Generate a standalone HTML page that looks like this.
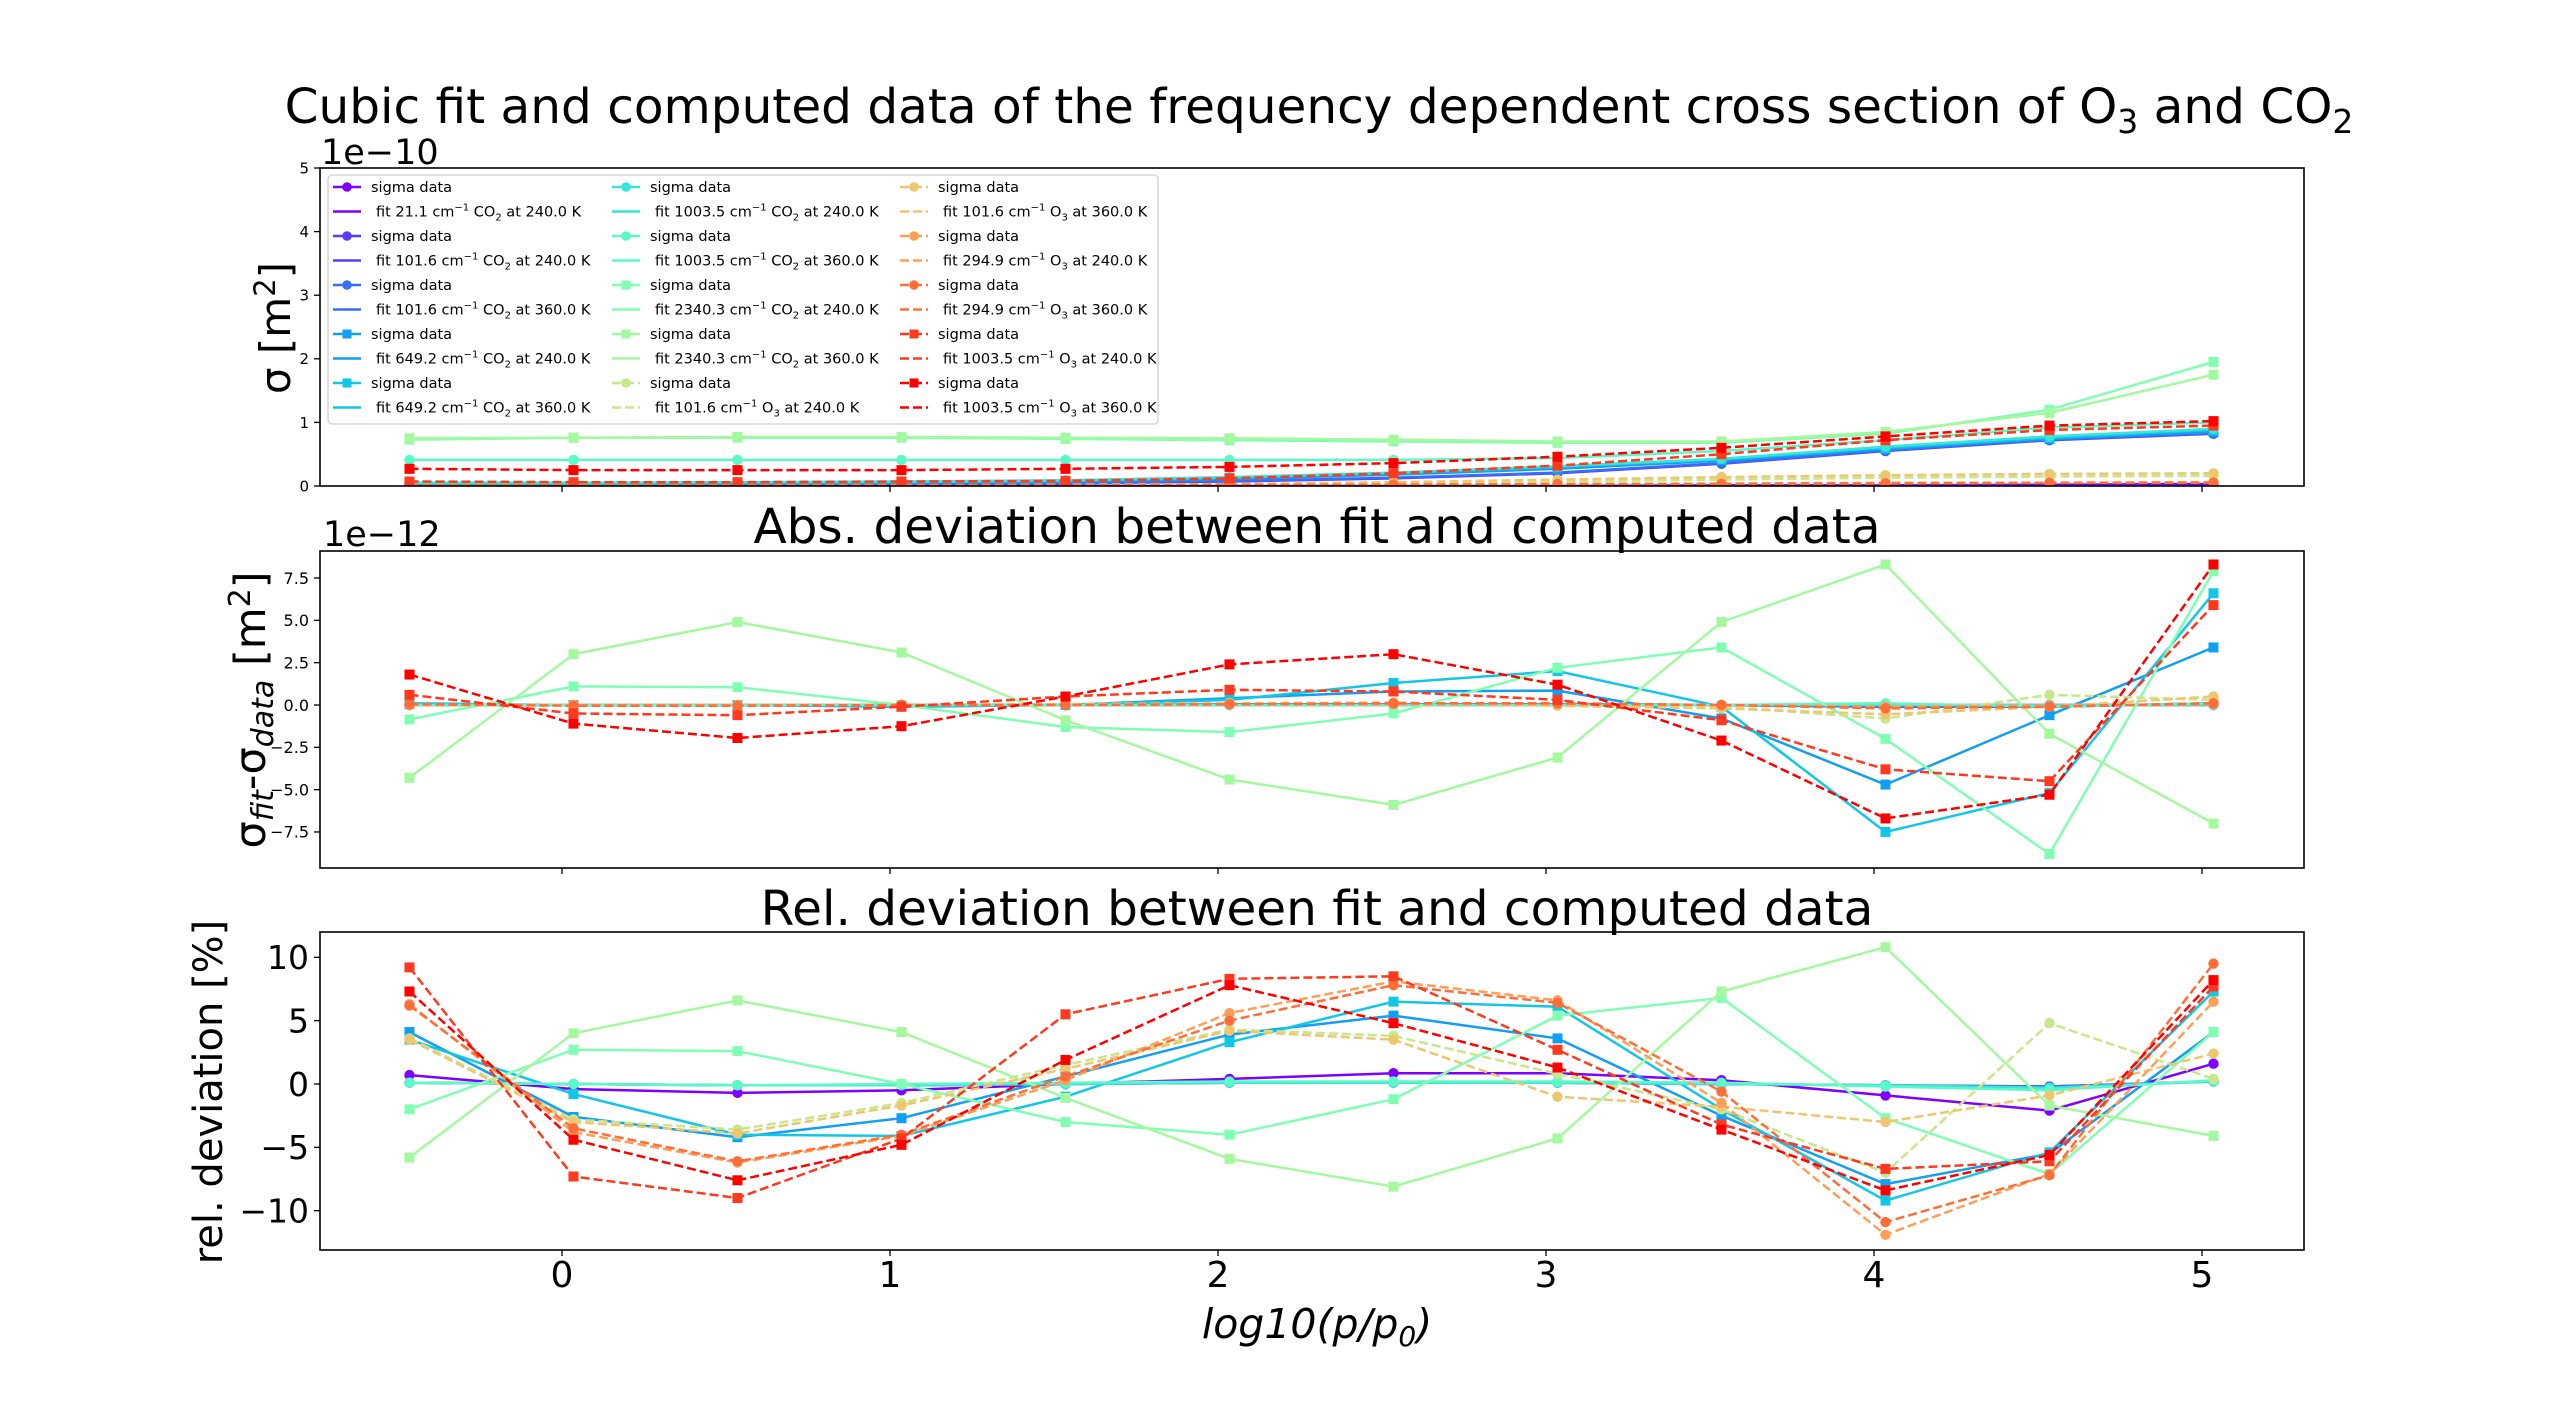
<!DOCTYPE html>
<html><head><meta charset="utf-8"><style>
html,body{margin:0;padding:0;background:#fff;}
svg{display:block;font-family:"DejaVu Sans","Liberation Sans",sans-serif;}
</style></head><body>
<svg id="chart" width="2560" height="1404" viewBox="0 0 2560 1404" xmlns="http://www.w3.org/2000/svg">
<rect width="2560" height="1404" fill="#fff"/>
<text x="1319" y="123" font-size="48.5" text-anchor="middle">Cubic fit and computed data of the frequency dependent cross section of O<tspan font-size="33" dy="10">3</tspan><tspan dy="-10"> and CO</tspan><tspan font-size="33" dy="10">2</tspan></text>
<text x="1317" y="543" font-size="48.5" text-anchor="middle">Abs. deviation between fit and computed data</text>
<text x="1317" y="925" font-size="48.5" text-anchor="middle">Rel. deviation between fit and computed data</text>
<text x="321" y="164" font-size="35">1e−10</text>
<text x="323" y="546" font-size="35">1e−12</text>
<text transform="translate(290,328) rotate(-90)" font-size="42" text-anchor="middle">σ [m<tspan font-size="29" dy="-15">2</tspan><tspan dy="15">]</tspan></text>
<text transform="translate(265,710) rotate(-90)" font-size="43" text-anchor="middle">σ<tspan font-size="30" dy="8" font-style="italic">fit</tspan><tspan dy="-8">-σ</tspan><tspan font-size="30" dy="8" font-style="italic">data</tspan><tspan dy="-8"> [m</tspan><tspan font-size="30" dy="-15">2</tspan><tspan dy="15">]</tspan></text>
<text transform="translate(222,1092) rotate(-90)" font-size="40" text-anchor="middle">rel. deviation [%]</text>
<text x="1317" y="1338" font-size="41" text-anchor="middle" font-style="italic">log10(p/p<tspan font-size="28" dy="8">0</tspan><tspan dy="-8">)</tspan></text>
<g id="plots"></g>
</svg>
<script>
const xVals = [-0.465,0.035,0.535,1.035,1.535,2.035,2.535,3.035,3.535,4.035,4.535,5.035];
const colors = ["#8000ff","#5b39fd","#376ef9","#129ff1","#12c7e6","#37e6d8","#5bf9c7","#80ffb4","#a4f99f","#c8e68a","#edc76f","#ff9f57","#ff6e39","#ff391d","#ff0000"];
const markers = ["o","o","o","s","s","o","o","s","s","o","o","o","o","s","s"];
const dashed = [0,0,0,0,0,0,0,0,0,1,1,1,1,1,1];
const labels = ["fit 21.1 cm|CO|240.0","fit 101.6 cm|CO|240.0","fit 101.6 cm|CO|360.0","fit 649.2 cm|CO|240.0","fit 649.2 cm|CO|360.0","fit 1003.5 cm|CO|240.0","fit 1003.5 cm|CO|360.0","fit 2340.3 cm|CO|240.0","fit 2340.3 cm|CO|360.0","fit 101.6 cm|O|240.0","fit 101.6 cm|O|360.0","fit 294.9 cm|O|240.0","fit 294.9 cm|O|360.0","fit 1003.5 cm|O|240.0","fit 1003.5 cm|O|360.0"];
// sigma (1e-10 m^2)
const sigma1 = [0,0,0,0,0,0,0,0,0.01,0.01,0.02,0.03];
const sigma2 = [0.02,0.02,0.02,0.03,0.04,0.07,0.12,0.2,0.35,0.55,0.72,0.82];
const sigma3 = [0.03,0.03,0.03,0.04,0.05,0.08,0.13,0.21,0.36,0.56,0.73,0.83];
const sigma4 = [0.03,0.03,0.04,0.05,0.07,0.11,0.18,0.27,0.4,0.58,0.74,0.85];
const sigma5 = [0.04,0.04,0.05,0.06,0.08,0.13,0.2,0.3,0.42,0.6,0.76,0.88];
const sigma6 = [0.05,0.05,0.06,0.07,0.09,0.14,0.21,0.31,0.43,0.62,0.78,0.9];
const sigma7 = [0.41,0.41,0.41,0.41,0.41,0.41,0.41,0.44,0.55,0.72,0.92,1.0];
const sigma8 = [0.73,0.76,0.76,0.76,0.74,0.72,0.7,0.68,0.68,0.82,1.2,1.95];
const sigma9 = [0.75,0.76,0.77,0.77,0.76,0.75,0.73,0.7,0.7,0.85,1.15,1.75];
const sigma10 = [0,0,0,0.01,0.01,0.02,0.04,0.07,0.1,0.13,0.15,0.16];
const sigma11 = [0,0,0.01,0.01,0.02,0.03,0.06,0.1,0.14,0.17,0.19,0.2];
const sigma12 = [0,0,0,0,0.01,0.01,0.02,0.03,0.04,0.05,0.05,0.06];
const sigma13 = [0.01,0.01,0.01,0.01,0.01,0.02,0.02,0.03,0.03,0.04,0.05,0.05];
const sigma14 = [0.07,0.06,0.06,0.07,0.08,0.12,0.2,0.32,0.5,0.72,0.88,0.95];
const sigma15 = [0.27,0.25,0.25,0.25,0.27,0.3,0.36,0.46,0.6,0.78,0.95,1.02];
// absolute deviation (1e-12 m^2)
const abs1 = [0,0,0,0,0,0,0,0,0,0,0,0];
const abs2 = [0,0,0,0,0,0,0.05,0.05,0,-0.1,-0.1,0.1];
const abs3 = [0,0,0,0,0,0.05,0.05,0.05,0,-0.1,-0.1,0.1];
const abs4 = [0.05,0,0,-0.1,0,0.4,0.8,0.85,-0.8,-4.7,-0.6,3.4];
const abs5 = [0.1,0,0,-0.05,0,0.3,1.3,2.0,-0.1,-7.5,-5.2,6.6];
const abs6 = [0,0,0,0,0,0,0,0,0,0,0,0];
const abs7 = [0,0,0,0,0,0,0,0,0,0.1,-0.1,0.1];
const abs8 = [-0.85,1.1,1.05,0,-1.3,-1.6,-0.5,2.2,3.4,-2.0,-8.8,7.9];
const abs9 = [-4.3,3.0,4.9,3.1,-0.9,-4.4,-5.9,-3.1,4.9,8.3,-1.7,-7.0];
const abs10 = [0,0,0,0,0.05,0.1,0.1,0,-0.1,-0.8,0.6,0.3];
const abs11 = [0,0,0,0,0.05,0.1,0.15,-0.05,-0.2,-0.55,-0.1,0.5];
const abs12 = [0,0,0,0,0,0.05,0.05,0.05,0,-0.1,-0.05,0.05];
const abs13 = [0.05,-0.05,-0.05,0,0,0.05,0.1,0.1,0,-0.2,-0.1,0.1];
const abs14 = [0.6,-0.5,-0.6,-0.1,0.5,0.9,0.8,0.3,-0.9,-3.8,-4.5,5.9];
const abs15 = [1.8,-1.1,-1.95,-1.25,0.5,2.4,3.0,1.2,-2.1,-6.7,-5.3,8.3];
// relative deviation (%)
const rel1 = [0.7,-0.4,-0.7,-0.5,0,0.4,0.85,0.85,0.3,-0.9,-2.1,1.6];
const rel2 = [0.1,0,-0.1,-0.1,0,0.1,0.1,0.1,0,-0.1,-0.2,0.2];
const rel3 = [0.1,0,-0.1,-0.1,0,0.1,0.15,0.1,0,-0.1,-0.2,0.2];
const rel4 = [4.1,-2.6,-4.2,-2.7,0.6,3.9,5.4,3.6,-2.5,-7.9,-5.5,4.1];
const rel5 = [3.5,-0.8,-4.0,-4.1,-1.0,3.3,6.5,6.1,-2.0,-9.2,-5.4,7.3];
const rel6 = [0.1,0,-0.1,-0.1,0,0.1,0.1,0.1,0,-0.1,-0.3,0.2];
const rel7 = [0.1,0,-0.1,0,0.1,0.2,0.2,0.2,0.1,-0.2,-0.5,0.3];
const rel8 = [-2.0,2.7,2.6,0,-3.0,-4.0,-1.2,5.4,6.8,-2.7,-7.1,4.1];
const rel9 = [-5.8,4.0,6.6,4.1,-1.1,-5.9,-8.1,-4.3,7.3,10.8,-1.7,-4.1];
const rel10 = [3.6,-2.8,-3.6,-1.5,1.5,4.3,3.8,0.8,-2.0,-7.0,4.8,0.4];
const rel11 = [3.5,-3.0,-3.9,-1.7,1.2,4.2,3.5,-1.0,-1.8,-3.0,-0.9,2.4];
const rel12 = [6.3,-3.8,-6.2,-4.1,0.3,5.6,8.1,6.6,-1.5,-11.9,-7.1,6.5];
const rel13 = [6.2,-3.5,-6.1,-4.0,0.6,5.0,7.8,6.4,-0.6,-10.9,-7.2,9.5];
const rel14 = [9.2,-7.3,-9.0,-4.3,5.5,8.3,8.5,2.7,-3.2,-6.7,-6.1,7.7];
const rel15 = [7.3,-4.4,-7.6,-4.8,1.9,7.8,4.8,1.3,-3.6,-8.4,-5.6,8.2];
const sigmaSeries = [sigma1,sigma2,sigma3,sigma4,sigma5,sigma6,sigma7,sigma8,sigma9,sigma10,sigma11,sigma12,sigma13,sigma14,sigma15];
const absSeries = [abs1,abs2,abs3,abs4,abs5,abs6,abs7,abs8,abs9,abs10,abs11,abs12,abs13,abs14,abs15];
const relSeries = [rel1,rel2,rel3,rel4,rel5,rel6,rel7,rel8,rel9,rel10,rel11,rel12,rel13,rel14,rel15];
const xTicks = [0,1,2,3,4,5];
const topTicks = [0,1,2,3,4,5];
const topTickLabels = ["0","1","2","3","4","5"];
const midTicks = [-7.5,-5,-2.5,0,2.5,5,7.5];
const midTickLabels = ["−7.5","−5.0","−2.5","0.0","2.5","5.0","7.5"];
const relTicks = [-10,-5,0,5,10];
const relTickLabels = ["−10","−5","0","5","10"];

const NS = "http://www.w3.org/2000/svg";
const root = document.getElementById('plots');
function mk(tag, attrs, parent){const e=document.createElementNS(NS,tag);for(const k in attrs)e.setAttribute(k,attrs[k]);(parent||root).appendChild(e);return e;}
const L=320,R=2304;
function xs(v){return 562+v*328;}
const panels=[
 {name:'sigma',top:168,bot:486,y0:486,k:63.6,data:sigmaSeries,ticks:topTicks,tl:topTickLabels,fs:15,showX:false},
 {name:'abs',top:551,bot:868,y0:705,k:16.93,data:absSeries,ticks:midTicks,tl:midTickLabels,fs:16,showX:false},
 {name:'rel',top:932,bot:1250,y0:1084,k:12.67,data:relSeries,ticks:relTicks,tl:relTickLabels,fs:33,showX:true}
];
panels.forEach(p=>{
  const g=mk('g',{});
  
  
  const ys=v=>p.y0-v*p.k;
  const clip=mk('clipPath',{id:'c'+p.name},g);
  mk('rect',{x:L,y:p.top,width:R-L,height:p.bot-p.top},clip);
  p.ticks.forEach((t,i)=>{
    const y=ys(t);
    const tk=mk('line',{x1:L-6,x2:L,y1:y,y2:y,stroke:'#000','stroke-width':1.3},g);
    
    
    const tx=mk('text',{x:L-11,y:y+p.fs*0.36,'font-size':p.fs,'text-anchor':'end'},g);
    tx.textContent=p.tl[i];
    
    
  });
  xTicks.forEach(t=>{
    const x=xs(t);
    const tk=mk('line',{x1:x,x2:x,y1:p.bot,y2:p.bot+6,stroke:'#000','stroke-width':1.3},g);
    
    
    if(p.showX){
      const tx=mk('text',{x:x,y:p.bot+37,'font-size':36,'text-anchor':'middle'},g);
      tx.textContent=String(t);
      
      
    }
  });
  const sg=mk('g',{'clip-path':'url(#c'+p.name+')'},g);
  p.data.forEach((arr,si)=>{
    const pts=arr.map((v,i)=>xs(xVals[i]).toFixed(1)+','+ys(v).toFixed(1)).join(' ');
    const ln=mk('polyline',{points:pts,fill:'none',stroke:colors[si],'stroke-width':2.5,'stroke-dasharray':dashed[si]?'9,4':'none'},sg);
    
    
    arr.forEach((v,i)=>{
      const x=xs(xVals[i]),y=ys(v);
      let m;
      if(markers[si]==='s') m=mk('rect',{x:x-5,y:y-5,width:10,height:10,fill:colors[si]},sg);
      else m=mk('circle',{cx:x,cy:y,r:5.2,fill:colors[si]},sg);
      
      
    });
  });
  const fr=mk('rect',{x:L,y:p.top,width:R-L,height:p.bot-p.top,fill:'none',stroke:'#000','stroke-width':1.6},g);
  
  
});
// legend
const lg=mk('g',{});


mk('rect',{x:328,y:175,width:830,height:249,rx:4,fill:'#fff','fill-opacity':0.85,stroke:'#d0d0d0','stroke-width':1.3},lg);
const colX=[333,612,900];
labels.forEach((lab,si)=>{
  const col=Math.floor(si/5), row=si%5;
  const hx=colX[col];
  const y1=187+row*2*24.5, y2=y1+24.5;
  const dash=dashed[si]?'9,4':'none';
  const e1=mk('g',{},lg);
  
  
  mk('line',{x1:hx,x2:hx+28,y1:y1,y2:y1,stroke:colors[si],'stroke-width':2.5,'stroke-dasharray':dash},e1);
  if(markers[si]==='s') mk('rect',{x:hx+9.5,y:y1-4.5,width:9,height:9,fill:colors[si]},e1);
  else mk('circle',{cx:hx+14,cy:y1,r:4.8,fill:colors[si]},e1);
  const t1=mk('text',{x:hx+38,y:y1+5,'font-size':14.5},e1);
  t1.textContent='sigma data';
  const e2=mk('g',{},lg);
  
  
  mk('line',{x1:hx,x2:hx+28,y1:y2,y2:y2,stroke:colors[si],'stroke-width':2.5,'stroke-dasharray':dash},e2);
  const parts=lab.split('|');
  const t2=mk('text',{x:hx+43,y:y2+5,'font-size':14.5},e2);
  t2.innerHTML=parts[0]+'<tspan font-size="10" dy="-6">−1</tspan><tspan dy="6"> '+parts[1]+'</tspan><tspan font-size="10" dy="4">'+(parts[1]==='CO'?'2':'3')+'</tspan><tspan dy="-4"> at '+parts[2]+' K</tspan>';
});
</script>
</body></html>
